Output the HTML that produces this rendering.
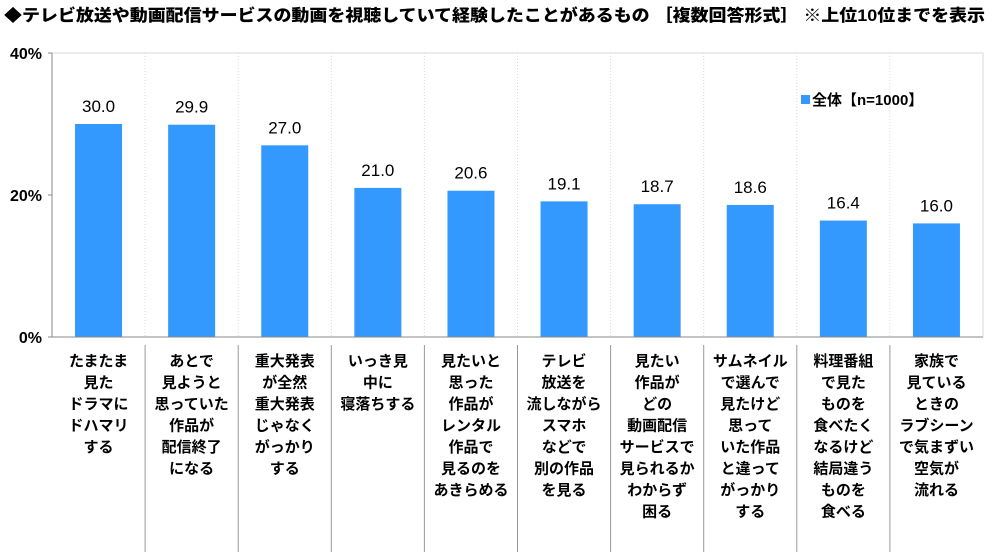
<!DOCTYPE html>
<html><head><meta charset="utf-8"><style>
body{margin:0;background:#fff;width:1000px;height:554px;overflow:hidden;font-family:"Liberation Sans","Noto Sans CJK JP",sans-serif;}
</style></head><body>
<svg id="chart" width="1000" height="554" font-family="Liberation Sans, Noto Sans CJK JP, sans-serif">
<text x="4" y="21" font-size="16.5" font-weight="900" fill="#000" textLength="981" lengthAdjust="spacingAndGlyphs">◆テレビ放送や動画配信サービスの動画を視聴していて経験したことがあるもの ［複数回答形式］ ※上位10位までを表示</text>
<g id="grid"></g><g id="bars"></g><g id="axes"></g><g id="labels"></g>
<g>
<rect x="801" y="95" width="9" height="9" fill="#3399ff"/>
<text x="812" y="105" font-size="15" font-weight="bold">全体【n=1000】</text>
</g>
</svg>
<script>
const categories=[["たまたま","見た","ドラマに","ドハマリ","する"],["あとで","見ようと","思っていた","作品が","配信終了","になる"],["重大発表","が全然","重大発表","じゃなく","がっかり","する"],["いっき見","中に","寝落ちする"],["見たいと","思った","作品が","レンタル","作品で","見るのを","あきらめる"],["テレビ","放送を","流しながら","スマホ","などで","別の作品","を見る"],["見たい","作品が","どの","動画配信","サービスで","見られるか","わからず","困る"],["サムネイル","で選んで","見たけど","思って","いた作品","と違って","がっかり","する"],["料理番組","で見た","ものを","食べたく","なるけど","結局違う","ものを","食べる"],["家族で","見ている","ときの","ラブシーン","で気まずい","空気が","流れる"]];
const values=[30.0,29.9,27.0,21.0,20.6,19.1,18.7,18.6,16.4,16.0];
const ticks=[0,20,40];
const tickLabels=["0%","20%","40%"];
const NS="http://www.w3.org/2000/svg";
const X0=52,X1=983,Y0=337,Y1=53,YMAX=40;
const bw=(X1-X0)/values.length;
const y=v=>Y0-(v/YMAX)*(Y0-Y1);
const xc=i=>X0+bw*(i+0.5);
function mk(t,a,p){const e=document.createElementNS(NS,t);for(const k in a)e.setAttribute(k,a[k]);p.appendChild(e);return e;}
const g=document.getElementById('grid'),b=document.getElementById('bars'),ax=document.getElementById('axes'),lb=document.getElementById('labels');
mk('rect',{x:X0,y:Y1,width:X1-X0,height:Y0-Y1,fill:'none',stroke:'#d9d9d9'},g);
for(let i=1;i<values.length;i++){
 const l=mk('line',{x1:X0+bw*i,x2:X0+bw*i,y1:Y1,y2:Y0,stroke:'#d9d9d9','stroke-dasharray':'1,2'},g);
 
 
 const s=mk('line',{x1:X0+bw*i,x2:X0+bw*i,y1:Y0+8,y2:552,stroke:'#999'},g);
 
 
}
mk('line',{x1:X0,x2:X0,y1:Y1,y2:Y0,stroke:'#888'},ax);
mk('line',{x1:X0,x2:X1,y1:Y0,y2:Y0,stroke:'#888'},ax);
ticks.forEach((t,i)=>{
 mk('line',{x1:X0-4,x2:X0,y1:y(t),y2:y(t),stroke:'#888'},ax);
 const tx=mk('text',{x:X0-10,y:y(t)+6,'text-anchor':'end','font-size':'16','font-weight':'bold'},ax);
 tx.textContent=tickLabels[i];
 
 
});
values.forEach((v,i)=>{
 const r=mk('rect',{x:xc(i)-23.5,y:y(v),width:47,height:Y0-y(v),fill:'#3399ff'},b);
 
 
 const t=mk('text',{x:xc(i),y:y(v)-12,'text-anchor':'middle','font-size':'17'},b);
 t.textContent=v.toFixed(1);
 
 
 const c=mk('text',{x:xc(i),y:366,'text-anchor':'middle','font-size':'15','font-weight':'bold'},lb);
 
 
 categories[i].forEach((ln,j)=>{const s=mk('tspan',{x:xc(i),y:366+j*21.5},c);s.textContent=ln;});
});
</script>
</body></html>
